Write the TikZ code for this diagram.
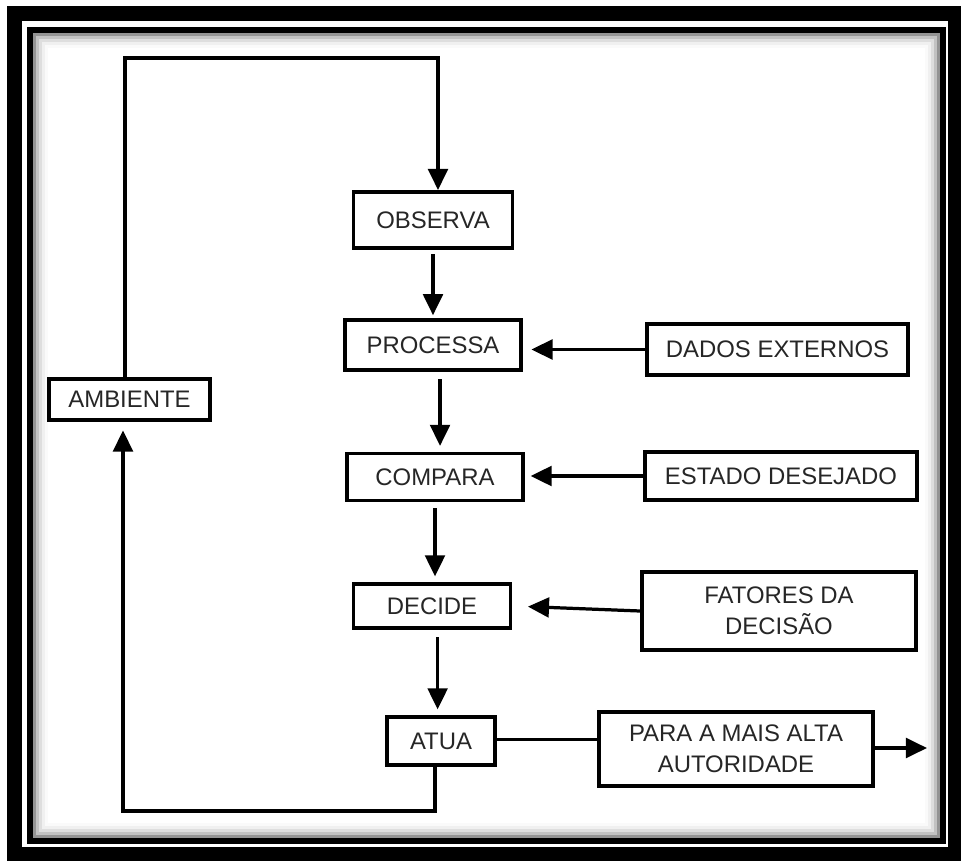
\documentclass[tikz,border=0pt]{standalone}
\usepackage{fontspec}
\setmainfont{Liberation Sans}
\usetikzlibrary{arrows.meta}
\newcommand{\px}{0.025cm}
\begin{document}
\begin{tikzpicture}[x=0.025cm,y=-0.025cm]
\tikzstyle{box}=[draw, line width=2.8pt, inner sep=0pt, align=center, text=black!85, font=\fontsize{17}{22}\selectfont]
\tikzstyle{arr}=[line width=2.3pt, -{Triangle[length=15pt,width=14pt]}]
\tikzstyle{link}=[line width=2.3pt]
\useasboundingbox (0,0) rectangle (961,861);
% frame
\fill [black] (7,6) rectangle (961,861);
\fill [white] (22,21) rectangle (948,847);
\draw [line width=4.3pt] (30,30) rectangle (942.5,840.5);
\foreach \i/\c in {1/42,2/24,3/13,4/6,5/2}
  \draw [black!\c, line width=2.2pt] ({31.5+3*\i},{31.5+3*\i}) rectangle ({941.5-3*\i},{839.5-3*\i});
% main column
\node [box, minimum width=159*\px, minimum height=56*\px] (observa) at (433,220) {OBSERVA};
\node [box, minimum width=176*\px, minimum height=50*\px] (processa) at (433,345) {PROCESSA};
\node [box, minimum width=176*\px, minimum height=47*\px] (compara) at (435,477) {COMPARA};
\node [box, minimum width=157*\px, minimum height=44*\px] (decide) at (432,606) {DECIDE};
\node [box, minimum width=108*\px, minimum height=48*\px] (atua) at (441,741) {ATUA};
\node [box, minimum width=161*\px, minimum height=41*\px] (ambiente) at (129.5,399.5) {AMBIENTE};
% side boxes
\node [box, minimum width=261*\px, minimum height=51*\px] (dados) at (777.5,349.5) {DADOS EXTERNOS};
\node [box, minimum width=272*\px, minimum height=48*\px] (estado) at (781,476) {ESTADO DESEJADO};
\node [box, minimum width=274*\px, minimum height=78*\px] (fatores) at (779,611) {FATORES DA\\DECISÃO};
\node [box, minimum width=274*\px, minimum height=74*\px] (para) at (736,749) {PARA A MAIS ALTA\\AUTORIDADE};
% loop corners
\coordinate (tl) at (125,58);
\coordinate (tr) at (438,58);
\coordinate (bl) at (123,811);
\coordinate (br) at (435,811);
\coordinate (saida) at (927,748);
% arrows
\draw [arr] (ambiente.north -| tl) -- (tl) -- (tr) -- (observa.north -| tr);
\draw [arr, shorten <=3pt, shorten >=2pt] (observa.south) -- (observa.south |- processa.north);
\draw [arr, shorten <=5pt, shorten >=4pt] ([xshift=5pt]processa.south) -- ([xshift=5pt]processa.south |- compara.north);
\draw [arr, shorten <=4pt, shorten >=4pt] (compara.south) -- (compara.south |- decide.north);
\draw [arr, shorten <=5pt, shorten >=4pt] ([xshift=4pt]decide.south) -- ([xshift=4pt]decide.south |- atua.north);
\draw [arr, shorten >=6pt] (dados.west) -- (dados.west -| processa.east);
\draw [arr, shorten >=4pt] (estado.west) -- (estado.west -| compara.east);
\draw [arr, shorten >=11pt] (fatores.west) -- (decide.east);
\draw [link] ([yshift=1pt]atua.east) -- ([yshift=1pt]atua.east -| para.west);
\draw [arr] (para.east |- saida) -- (saida);
\draw [arr, shorten >=6pt] (atua.south -| br) -- (br) -- (bl) -- (ambiente.south -| bl);
\end{tikzpicture}
\end{document}
